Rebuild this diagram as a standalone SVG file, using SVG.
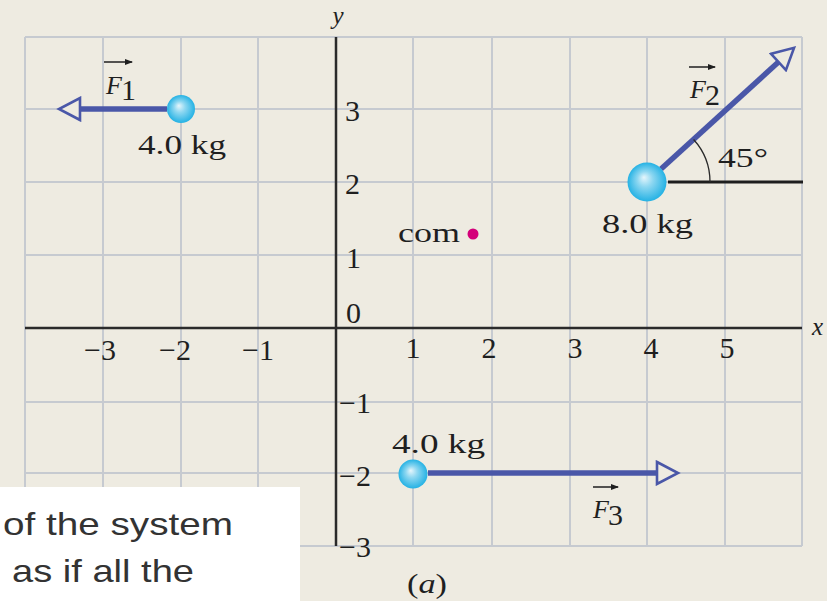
<svg xmlns="http://www.w3.org/2000/svg" width="827" height="601" viewBox="0 0 827 601">
<style>
.grid{stroke:#c6cad0;stroke-width:2;fill:none}
.axis{stroke:#2a2a2a;stroke-width:2.5;fill:none}
.num{font-family:"Liberation Serif","Times New Roman",serif;font-size:30px;fill:#1f1f1f}
.lbl{font-family:"Liberation Serif","Times New Roman",serif;font-size:28px;fill:#1f1f1f}
.it{font-family:"Liberation Serif","Times New Roman",serif;font-style:italic;fill:#1f1f1f}
.force{stroke:#4a57a8;stroke-width:5.5;fill:none;stroke-linecap:butt}
.vec{stroke:#1f1f1f;stroke-width:1.5;fill:none}
.ball{fill:url(#ballg)}
.note{font-family:"Liberation Sans",Arial,sans-serif;font-size:32px;fill:#333333}
</style>
<defs>
<radialGradient id="ballg" cx="0.5" cy="0.5" r="0.5" fx="0.42" fy="0.38">
<stop offset="0" stop-color="#e6f6fc"/>
<stop offset="0.4" stop-color="#8dd7f1"/>
<stop offset="1" stop-color="#25b2e4"/>
</radialGradient>
<marker id="head" markerUnits="userSpaceOnUse" viewBox="-2 -2 26 26" markerWidth="26" markerHeight="26" refX="0" refY="11" orient="auto">
<path d="M0,0 L21,11 L0,22 Z" fill="#eeebe1" stroke="#4a57a8" stroke-width="2.6" stroke-linejoin="miter"/>
</marker>
<marker id="vhead" markerUnits="userSpaceOnUse" viewBox="0 0 8 6" markerWidth="8" markerHeight="6" refX="7" refY="3" orient="auto">
<path d="M0,0 L8,3 L0,6 Z" fill="#1f1f1f"/>
</marker>
</defs>
<rect x="0" y="0" width="827" height="601" fill="#eeebe1"/>
<g id="grid">
<path class="grid" d="M25,37V546 M103,37V546 M181,37V546 M258,37V546 M413,37V546 M492,37V546 M570,37V546 M647,37V546 M725,37V546 M802,37V546"/>
<path class="grid" d="M25,37H802 M25,109H802 M25,182H802 M25,255H802 M25,402H802 M25,473H802 M25,546H802"/>
</g>
<g id="axes">
<path class="axis" d="M336,37V546"/>
<path class="axis" d="M25,328H802"/>
<text class="it" x="338" y="24" font-size="25" text-anchor="middle">y</text>
<text class="it" x="812" y="335" font-size="25">x</text>
<text class="num" x="345" y="121">3</text>
<text class="num" x="345" y="194">2</text>
<text class="num" x="346" y="268">1</text>
<text class="num" x="346" y="323">0</text>
<text class="num" x="339" y="413">−1</text>
<text class="num" x="339" y="486">−2</text>
<text class="num" x="339" y="557">−3</text>
<text class="num" x="100" y="360" text-anchor="middle">−3</text>
<text class="num" x="175" y="360" text-anchor="middle">−2</text>
<text class="num" x="258" y="360" text-anchor="middle">−1</text>
<text class="num" x="413" y="358" text-anchor="middle">1</text>
<text class="num" x="489" y="358" text-anchor="middle">2</text>
<text class="num" x="575" y="358" text-anchor="middle">3</text>
<text class="num" x="651" y="358" text-anchor="middle">4</text>
<text class="num" x="727" y="358" text-anchor="middle">5</text>
</g>
<g id="connectors">
<path id="f1" class="force" d="M167,109 H80" marker-end="url(#head)"/>
<path id="f2" class="force" d="M661,169 L778.5,62" marker-end="url(#head)"/>
<path id="f3" class="force" d="M428,473 H657" marker-end="url(#head)"/>
</g>
<g id="angle">
<path d="M668,182 H803" stroke="#1e1e1e" stroke-width="3.2" fill="none"/>
<path d="M710,182 A63,63 0 0 0 693.6,139.5" stroke="#2a2a2a" stroke-width="1.3" fill="none"/>
<text class="lbl" x="718" y="167" textLength="50" lengthAdjust="spacingAndGlyphs">45°</text>
</g>
<g id="mass1">
<circle class="ball" cx="181" cy="109" r="14"/>
<text class="lbl" x="138" y="154" textLength="88" lengthAdjust="spacingAndGlyphs">4.0 kg</text>
</g>
<g id="mass2">
<circle class="ball" cx="647" cy="182" r="19.5"/>
<text class="lbl" x="602" y="233" textLength="91" lengthAdjust="spacingAndGlyphs">8.0 kg</text>
</g>
<g id="mass3">
<circle class="ball" cx="413" cy="474" r="14.5"/>
<text class="lbl" x="392" y="453" textLength="93" lengthAdjust="spacingAndGlyphs">4.0 kg</text>
</g>
<g id="com">
<text class="lbl" x="398" y="242" textLength="62" lengthAdjust="spacingAndGlyphs">com</text>
<circle cx="473" cy="234" r="5.5" fill="#d4007a"/>
</g>
<g id="label-f1">
<text class="it" x="106" y="94" font-size="26">F</text>
<text class="num" x="121" y="100" font-size="18">1</text>
<path class="vec" d="M104,62 H132" marker-end="url(#vhead)"/>
</g>
<g id="label-f2">
<text class="it" x="690" y="98" font-size="26">F</text>
<text class="num" x="705" y="105" font-size="18">2</text>
<path class="vec" d="M689,67 H715" marker-end="url(#vhead)"/>
</g>
<g id="label-f3">
<text class="it" x="593" y="518" font-size="26">F</text>
<text class="num" x="608" y="525" font-size="18">3</text>
<path class="vec" d="M593,487 H618" marker-end="url(#vhead)"/>
</g>
<g id="caption">
<text class="lbl" x="407" y="593" textLength="40" lengthAdjust="spacingAndGlyphs">(<tspan font-style="italic">a</tspan>)</text>
</g>
<g id="note">
<rect x="0" y="487" width="300" height="114" fill="#ffffff"/>
<text class="note" x="3" y="535" textLength="230" lengthAdjust="spacingAndGlyphs">of the system</text>
<text class="note" x="12" y="582" textLength="182" lengthAdjust="spacingAndGlyphs">as if all the</text>
</g>
</svg>
